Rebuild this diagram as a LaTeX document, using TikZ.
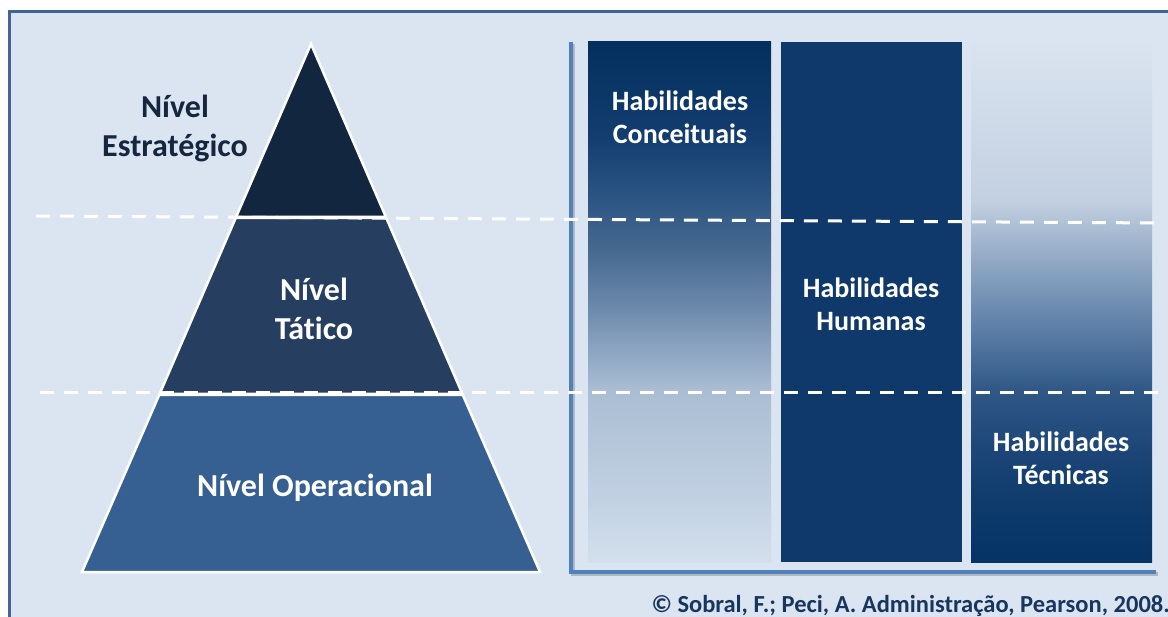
\documentclass[tikz,border=0pt]{standalone}
\usepackage{fontspec}
\setmainfont{Carlito}[Ligatures=NoCommon]
\usetikzlibrary{positioning}

\definecolor{bgblue}{HTML}{DBE5F1}
\definecolor{framecol}{HTML}{3F6597}
\definecolor{axiscol}{HTML}{4F81BD}
\definecolor{tierA}{HTML}{132640}
\definecolor{tierB}{HTML}{263F60}
\definecolor{tierC}{HTML}{376092}
\definecolor{humcol}{HTML}{10396B}
\definecolor{txtnavy}{HTML}{14273F}
\definecolor{capcol}{HTML}{17365D}
% stops of the two shaded columns
\definecolor{ca1}{HTML}{D3DFEC}\definecolor{ca2}{HTML}{C2D1E2}
\definecolor{ca3}{HTML}{AABDD3}\definecolor{ca4}{HTML}{8CA4C0}
\definecolor{ca5}{HTML}{6986A8}\definecolor{ca6}{HTML}{46698F}
\definecolor{ca7}{HTML}{2C5583}\definecolor{ca8}{HTML}{123D6E}
\definecolor{ca9}{HTML}{03305F}
\definecolor{cb1}{HTML}{063366}\definecolor{cb2}{HTML}{0F3B6D}
\definecolor{cb3}{HTML}{1C4677}\definecolor{cb4}{HTML}{2F5886}
\definecolor{cb5}{HTML}{4E719C}\definecolor{cb6}{HTML}{7290B3}
\definecolor{cb7}{HTML}{9AAFC9}\definecolor{cb8}{HTML}{C3D0E1}
\definecolor{cb9}{HTML}{DAE4F0}
\pgfdeclareverticalshading{concshade}{100bp}{color(0bp)=(ca1); color(25bp)=(ca1);
  color(31bp)=(ca2); color(41.5bp)=(ca3); color(45.5bp)=(ca4); color(50bp)=(ca5);
  color(55bp)=(ca6); color(60bp)=(ca7); color(66bp)=(ca8); color(75bp)=(ca9); color(100bp)=(ca9)}
\pgfdeclareverticalshading{tecshade}{100bp}{color(0bp)=(cb1); color(25bp)=(cb1);
  color(31bp)=(cb2); color(35.8bp)=(cb3); color(41.5bp)=(cb4); color(45.4bp)=(cb5);
  color(50.2bp)=(cb6); color(55bp)=(cb7); color(59.8bp)=(cb8); color(75bp)=(cb9); color(100bp)=(cb9)}

\begin{document}
\begin{tikzpicture}[x=1pt,y=-1pt,
    tier/.style={draw=white,line width=2.5pt},
    cut/.style={white,line width=3pt,dash pattern=on 14pt off 10pt},
    lvl/.style={align=center,font=\fontsize{32}{39}\selectfont\bfseries},
    hab/.style={align=center,text=white,font=\fontsize{28}{33}\selectfont\bfseries}]
    \useasboundingbox (0,0) rectangle (1168,617);
    \clip (0,0) rectangle (1168,617);
    \fill[bgblue] (9,12) rectangle (1190,640);
    \draw[framecol,line width=3pt] (9,640) -- (9,12) -- (1190,12);

    % pyramid
    \filldraw[tier,fill=tierA] (311,44) -- (385.9,217) -- (236.1,217) -- cycle;
    \filldraw[tier,fill=tierB] (235.7,218) -- (386.3,218) -- (462.4,394) -- (159.6,394) -- cycle;
    \filldraw[tier,fill=tierC] (159.2,395) -- (462.8,395) -- (540,572) -- (82,572) -- cycle;

    % columns
    \shade[shading=concshade] (588,42) rectangle (771,562);
    \fill[humcol] (781,42) rectangle (962,562);
    \shade[shading=tecshade] (971,42) rectangle (1152,562);

    % axes
    \coordinate (ytop) at (571,42);
    \coordinate (orig) at (571,572);
    \coordinate (xend) at (1156,572);
    \draw[gray,opacity=0.45,line width=4pt,transform canvas={shift={(1.5pt,-2pt)}}] (ytop) -- (orig) -- (xend);
    \draw[axiscol,line width=4pt] (ytop) -- (orig) -- (xend);

    % dashed level lines
    \coordinate (cutAl) at (36,216);
    \coordinate (cutAr) at (1162,223);
    \coordinate (cutBl) at (40,393);
    \coordinate (cutBr) at (1162,393);
    \draw[cut] (cutAl) -- (cutAr);
    \draw[cut] (cutBl) -- (cutBr);

    \node[lvl,text=txtnavy] (estr) at (175,128) {Nível\\Estratégico};
    \node[lvl,text=white] (tatico) at (314,309) {Nível\\Tático};
    \node[lvl,text=white] (oper) at (315,488) {Nível Operacional};
    \node[hab] (conc) at (680,117) {Habilidades\\Conceituais};
    \node[hab] (hum) at (871,304) {Habilidades\\Humanas};
    \node[hab] (tec) at (1061,458) {Habilidades\\Técnicas};
    \node[anchor=base west,text=capcol,font=\fontsize{24.5}{28}\selectfont\bfseries] (fonte) at (648,612)
        {© Sobral, F.; Peci, A. Administração, Pearson, 2008.};
\end{tikzpicture}
\end{document}
